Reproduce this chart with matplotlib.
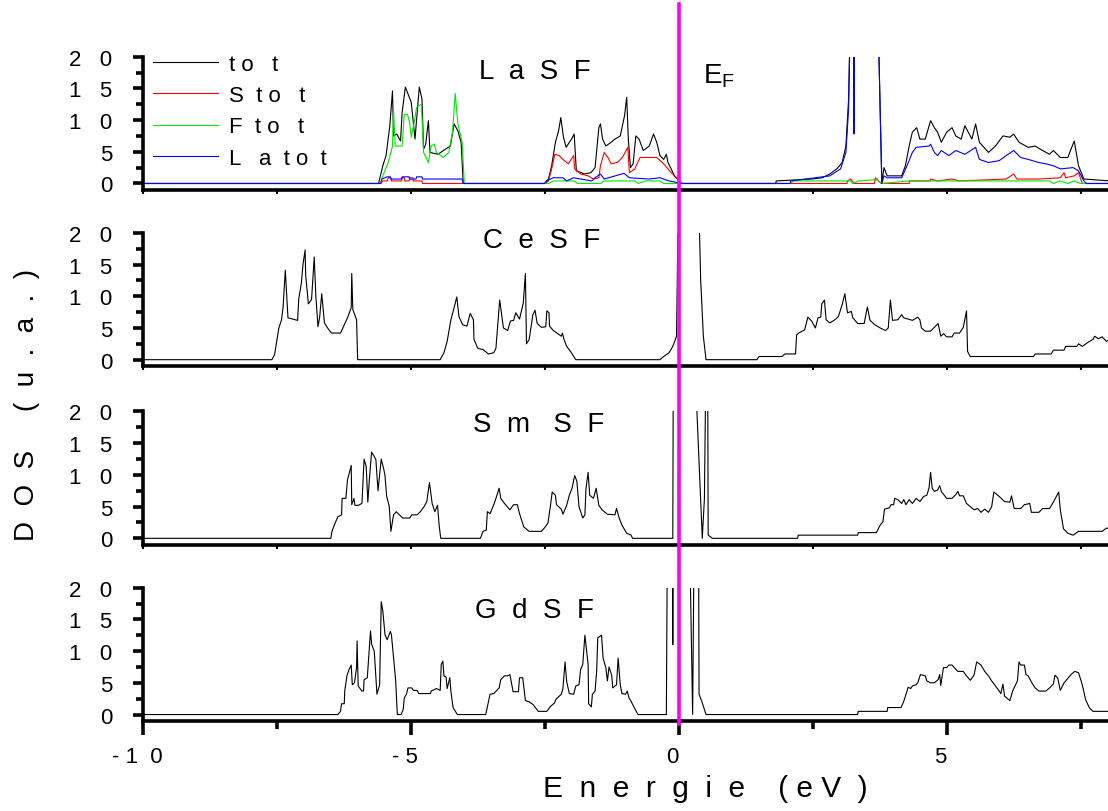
import matplotlib
matplotlib.use("Agg")
import matplotlib.pyplot as plt
from matplotlib.ticker import MultipleLocator, FixedLocator
from matplotlib.lines import Line2D
import matplotlib.transforms as mtransforms

plt.rcParams['font.family'] = ['Liberation Sans', 'DejaVu Sans']
plt.rcParams['mathtext.default'] = 'regular'

# ---------------- data (Energy eV, DOS u.a.) ----------------
E_FERMI = 0.0

la_tot = [(-10,0), (-5.61,0), (-5.53,2.8), (-5.47,4.4), (-5.40,9.1), (-5.35,14.6), (-5.33,7.5), (-5.27,7.8), (-5.20,6.7),
          (-5.17,11.2), (-5.11,15.2), (-5.00,12.8), (-4.93,7.0), (-4.85,15.2), (-4.80,13.3), (-4.77,5.4), (-4.73,6.2),
          (-4.68,9.9), (-4.65,4.9), (-4.50,4.6), (-4.40,5.2), (-4.27,5.9), (-4.20,9.4), (-4.13,8.3), (-4.07,6.5), (-4.03,0),
          (-2.51,0), (-2.44,0.7), (-2.38,2.8), (-2.31,6.5), (-2.25,8.3), (-2.21,10.4), (-2.16,7.3), (-2.11,5.7), (-2.05,6.5),
          (-2.01,7.0), (-1.96,7.8), (-1.92,2.0), (-1.77,1.5), (-1.65,1.7), (-1.57,2.5), (-1.50,8.8), (-1.47,9.4), (-1.43,7.0),
          (-1.37,5.9), (-1.27,6.5), (-1.20,7.0), (-1.10,7.5), (-1.02,10.7), (-0.98,13.6), (-0.95,7.0), (-0.91,2.5), (-0.86,3.1),
          (-0.81,7.5), (-0.75,7.0), (-0.67,5.2), (-0.56,5.9), (-0.48,7.8), (-0.42,6.5), (-0.36,4.4), (-0.29,3.8), (-0.24,4.6),
          (-0.21,3.3), (-0.15,2.3), (-0.09,1.2), (0.00,0.4), (0.05,0),
          (1.80,0), (1.81,0.4), (2.47,0.7), (2.67,0.9), (2.81,1.5), (2.94,2.3), (3.04,3.3), (3.11,5.9), (3.16,13.3), (3.20,30),
          (3.70,30), (3.78,0), (3.82,2.5), (3.88,1.2), (4.15,1.2), (4.22,2.8), (4.29,5.9), (4.35,8.1), (4.43,8.8), (4.49,7.0),
          (4.59,7.0), (4.69,9.9), (4.76,8.8), (4.82,8.1), (4.89,6.5), (4.99,8.1), (5.09,8.8), (5.16,7.5), (5.26,7.0), (5.33,9.1),
          (5.46,7.0), (5.53,9.4), (5.60,6.5), (5.77,4.9), (5.90,5.9), (6.04,7.5), (6.17,7.3), (6.24,7.8), (6.34,6.5), (6.51,5.7),
          (6.64,5.9), (6.78,5.2), (6.91,4.6), (6.98,5.2), (7.11,4.1), (7.25,4.1), (7.37,6.7), (7.45,2.8), (7.55,0.7), (8.05,0.4)]

la_s = [(-10,0), (-5.57,0), (-5.53,0.4), (-5.45,0.4), (-5.43,0.9), (-5.38,0.9), (-5.37,0.4), (-5.18,0.4), (-5.17,0.9),
        (-5.13,0.9), (-5.12,0.4), (-5.04,0.4), (-5.03,0.9), (-4.97,0.9), (-4.96,0.4), (-4.80,0.4), (-4.79,0),
        (-2.51,0), (-2.44,0.4), (-2.38,2.3), (-2.32,4.6), (-2.24,4.4), (-2.17,3.8), (-2.07,3.1), (-1.97,4.4), (-1.95,2.3),
        (-1.84,1.5), (-1.70,1.2), (-1.60,0.7), (-1.50,0.9), (-1.47,2.8), (-1.40,4.9), (-1.33,4.1), (-1.27,3.1), (-1.16,3.3),
        (-1.06,4.1), (-0.96,5.7), (-0.93,1.7), (-0.83,2.3), (-0.73,4.1), (-0.42,4.1), (-0.29,3.1), (-0.15,1.7), (-0.02,0.7),
        (0.05,0),
        (3.13,0), (3.14,0.4), (3.20,0.7), (3.26,0), (3.64,0), (3.66,0.9), (3.77,0), (4.29,0), (4.30,0.4), (4.68,0.4),
        (4.69,0.7), (4.82,0.4), (5.09,0.7), (5.23,0.4), (6.10,0.7), (6.24,1.5), (6.30,0.7), (6.71,0.7), (7.11,0.9),
        (7.18,1.7), (7.21,0.9), (7.37,1.2), (7.45,1.7), (7.52,0), (8.05,0)]

la_f = [(-10,0), (-5.57,0), (-5.53,1.2), (-5.43,3.3), (-5.35,5.9), (-5.33,11.5), (-5.30,5.9), (-5.17,5.9), (-5.13,10.9),
        (-5.07,10.9), (-5.03,9.6), (-5.00,7.3), (-4.95,9.4), (-4.90,12.0), (-4.81,12.5), (-4.77,4.9), (-4.68,3.3),
        (-4.63,5.9), (-4.57,6.2), (-4.53,4.9), (-4.40,4.1), (-4.30,4.9), (-4.23,8.1), (-4.18,14.2), (-4.13,9.4),
        (-4.05,6.5), (-4.01,0),
        (-2.44,0), (-2.34,0.4), (-1.97,0.4), (-1.90,0), (-1.47,0), (-1.40,0.4), (-0.83,0.4), (-0.76,0), (-0.63,0.4),
        (-0.36,0.4), (-0.29,0),
        (2.07,0), (2.14,0.4), (3.20,0.4), (3.24,0), (3.34,0.4), (3.68,0.6), (3.78,0), (4.29,0.4), (6.91,0.4), (6.98,0),
        (7.11,0.4), (7.25,0), (7.37,0.4), (7.48,0), (8.05,0)]

la_la = [(-10,0), (-5.57,0), (-5.55,0.7), (-5.45,1.05), (-5.39,1.05), (-5.38,0.7), (-5.18,0.7), (-5.17,1.05), (-5.04,1.05),
         (-5.03,0.7), (-4.91,0.7), (-4.90,1.05), (-4.80,1.05), (-4.79,0.7), (-4.05,0.7), (-4.03,0),
         (-2.51,0), (-2.48,0.4), (-2.35,0.9), (-2.17,0.9), (-2.10,0.4), (-1.97,0.9), (-1.63,0.4), (-1.57,0.9), (-1.47,1.5),
         (-1.40,0.7), (-1.03,1.6), (-0.93,0.9), (-0.56,0.7), (-0.36,0.9), (-0.19,0.4), (0.05,0),
         (2.07,0), (2.08,0.4), (2.81,1.2), (3.01,2.3), (3.11,4.9), (3.16,11.7), (3.20,30), (3.25,30), (3.26,7.8), (3.27,30),
         (3.70,30), (3.78,0), (3.82,1.2), (3.88,0.9), (4.15,0.9), (4.25,2.8), (4.35,4.9), (4.42,5.7), (4.66,5.9), (4.69,6.2),
         (4.76,4.9), (4.82,4.4), (4.89,5.2), (5.03,4.4), (5.16,5.2), (5.33,4.6), (5.53,5.7), (5.60,3.8), (5.77,3.3),
         (5.97,3.6), (6.10,4.4), (6.24,5.2), (6.37,4.1), (6.51,3.8), (6.71,3.3), (6.84,3.1), (6.98,2.8), (7.11,2.3),
         (7.35,2.5), (7.45,2.0), (7.55,0.4), (7.60,0), (8.05,0)]

ce_tot = [(-10,0), (-7.60,0), (-7.55,0.8), (-7.51,2.9), (-7.47,5.0), (-7.42,6.3), (-7.39,8.4), (-7.35,14.1), (-7.30,6.6),
          (-7.12,6.2), (-7.10,9.5), (-7.05,12.1), (-7.02,15.0), (-6.98,17.3), (-6.97,13.4), (-6.92,8.8), (-6.86,9.5),
          (-6.81,16.2), (-6.78,10.0), (-6.74,5.2), (-6.71,6.6), (-6.67,10.4), (-6.62,5.8), (-6.56,5.0), (-6.49,4.2),
          (-6.32,4.2), (-6.26,5.3), (-6.19,6.6), (-6.12,8.2), (-6.11,13.6), (-6.09,7.9), (-6.02,6.3), (-6.00,0),
          (-4.46,0), (-4.39,1.1), (-4.33,2.9), (-4.26,6.3), (-4.20,8.2), (-4.15,9.9), (-4.11,6.8), (-4.04,5.5), (-3.96,5.3),
          (-3.90,7.3), (-3.84,6.3), (-3.83,3.2), (-3.76,1.8), (-3.66,1.6), (-3.56,0.9), (-3.46,1.1), (-3.42,1.8),
          (-3.35,9.4), (-3.28,5.0), (-3.20,4.6), (-3.15,6.1), (-3.09,6.2), (-3.05,7.4), (-2.98,6.4), (-2.91,8.9),
          (-2.87,13.6), (-2.85,2.5), (-2.80,3.2), (-2.73,7.1), (-2.69,7.8), (-2.65,5.7), (-2.57,5.1), (-2.49,5.2),
          (-2.47,7.7), (-2.43,7.4), (-2.42,5.3), (-2.35,4.6), (-2.20,3.7), (-2.18,4.2), (-2.15,3.2), (-2.10,2.1),
          (-2.02,1.2), (-1.93,0),
          (-0.36,0), (-0.29,0.5), (-0.19,1.1), (-0.12,2.1), (-0.05,3.7), (-0.01,30), (0.35,30), (0.40,12.6), (0.45,3.7),
          (0.50,0),
          (1.45,0), (1.49,0.5), (1.92,0.5), (1.97,0.9), (2.17,0.9), (2.19,3.9), (2.23,4.2), (2.34,4.7), (2.40,6.7),
          (2.47,6.1), (2.54,5.0), (2.59,6.6), (2.64,6.7), (2.66,8.8), (2.71,9.4), (2.74,6.3), (2.81,5.8), (2.89,6.2),
          (2.97,6.8), (3.04,8.7), (3.09,10.4), (3.14,7.4), (3.21,7.6), (3.24,6.6), (3.33,5.7), (3.45,5.7), (3.51,8.3),
          (3.56,6.2), (3.65,5.5), (3.75,5.0), (3.85,4.6), (3.90,5.0), (3.94,9.4), (3.98,6.2), (4.08,6.3), (4.15,7.1),
          (4.19,6.6), (4.35,6.2), (4.45,6.7), (4.49,6.3), (4.52,5.0), (4.59,4.5), (4.69,4.5), (4.83,5.7), (4.88,3.7),
          (4.93,4.1), (4.99,3.6), (5.09,3.6), (5.13,4.2), (5.23,4.2), (5.30,5.1), (5.36,7.7), (5.38,1.3), (5.43,0.5),
          (6.61,0.5), (6.64,0.9), (6.94,0.9), (6.98,1.5), (7.18,1.5), (7.21,2.1), (7.42,2.1), (7.45,2.5), (7.52,2.1),
          (7.62,2.7), (7.72,3.2), (7.75,3.7), (7.82,3.3), (7.89,3.6), (7.97,2.9), (8.05,3.2)]

sm_tot = [(-10,0), (-6.50,0), (-6.48,1.1), (-6.42,2.4), (-6.37,3.4), (-6.30,3.7), (-6.29,6.3), (-6.22,6.3), (-6.19,9.2),
          (-6.12,11.5), (-6.11,5.3), (-6.07,6.3), (-6.05,5.2), (-5.99,5.2), (-5.92,5.5), (-5.88,12.5), (-5.84,11.3),
          (-5.81,5.7), (-5.78,9.4), (-5.74,13.6), (-5.69,12.9), (-5.66,12.4), (-5.62,7.5), (-5.56,12.5), (-5.51,10.8),
          (-5.49,9.9), (-5.46,6.7), (-5.41,5.0), (-5.38,1.1), (-5.33,3.7), (-5.28,4.2), (-5.16,3.2), (-5.03,3.2),
          (-4.99,3.7), (-4.89,3.7), (-4.83,4.2), (-4.76,5.0), (-4.71,5.8), (-4.66,8.8), (-4.61,5.5), (-4.56,4.2),
          (-4.51,5.2), (-4.48,2.1), (-4.45,0),
          (-3.71,0), (-3.66,1.1), (-3.60,1.3), (-3.58,4.2), (-3.53,3.9), (-3.46,5.3), (-3.42,6.3), (-3.36,7.9), (-3.33,6.3),
          (-3.26,5.5), (-3.16,4.5), (-3.09,5.3), (-3.02,5.3), (-2.98,3.9), (-2.90,1.8), (-2.80,1.1), (-2.57,1.1),
          (-2.50,1.8), (-2.45,2.4), (-2.40,5.3), (-2.37,7.3), (-2.31,6.8), (-2.29,5.3), (-2.20,4.6), (-2.17,3.8),
          (-2.10,5.2), (-2.05,6.8), (-2.00,7.9), (-1.95,9.9), (-1.91,9.0), (-1.87,5.0), (-1.80,3.2), (-1.76,3.7),
          (-1.74,7.8), (-1.70,10.4), (-1.67,6.8), (-1.60,6.3), (-1.55,7.9), (-1.50,5.2), (-1.44,4.5), (-1.34,3.8),
          (-1.20,3.7), (-1.17,4.7), (-1.12,3.2), (-1.07,2.1), (-0.98,0.8), (-0.90,0.5), (-0.87,0),
          (-0.12,0), (-0.11,30), (0.28,30), (0.43,0), (0.47,6.3), (0.50,30), (0.53,30), (0.54,0.5), (0.62,0),
          (2.21,0), (2.22,0.5), (3.33,0.5), (3.34,0.9), (3.68,0.9), (3.75,2.1), (3.80,2.6), (3.83,4.6), (3.92,4.8),
          (3.95,5.3), (4.00,5.3), (4.02,6.3), (4.08,6.1), (4.15,5.5), (4.19,6.1), (4.23,5.3), (4.29,6.1), (4.35,5.5),
          (4.42,6.3), (4.49,5.8), (4.56,6.6), (4.62,6.8), (4.66,7.9), (4.69,10.4), (4.72,7.9), (4.76,7.4), (4.82,7.6),
          (4.86,8.3), (4.89,7.4), (4.99,6.3), (5.09,6.3), (5.16,6.9), (5.20,7.4), (5.23,6.7), (5.30,6.7), (5.36,5.5),
          (5.43,5.0), (5.50,4.5), (5.57,4.7), (5.63,4.1), (5.70,4.6), (5.77,4.1), (5.83,5.0), (5.87,7.3), (5.97,6.6),
          (6.07,5.8), (6.17,5.7), (6.20,6.7), (6.25,4.7), (6.37,4.7), (6.44,5.3), (6.54,5.5), (6.57,4.1), (6.71,4.1),
          (6.78,4.7), (6.91,4.7), (6.98,5.7), (7.08,7.3), (7.11,4.5), (7.17,1.5), (7.25,0.8), (7.35,0.5), (7.45,1.1),
          (7.89,1.1), (7.97,1.6), (8.05,1.6)]

gd_tot = [(-10,0), (-6.37,0), (-6.32,0.5), (-6.30,1.7), (-6.25,1.7), (-6.24,3.8), (-6.20,6.1), (-6.16,7.1), (-6.12,7.8),
          (-6.10,4.7), (-6.06,5.0), (-6.02,7.4), (-6.01,11.6), (-5.99,4.5), (-5.92,3.7), (-5.89,3.7), (-5.88,5.5),
          (-5.82,5.8), (-5.76,13.2), (-5.74,11.1), (-5.69,10.0), (-5.64,3.2), (-5.59,4.7), (-5.56,17.8), (-5.53,16.3),
          (-5.49,12.6), (-5.45,11.8), (-5.39,13.1), (-5.37,12.6), (-5.33,8.9), (-5.29,5.3), (-5.26,0), (-5.19,0),
          (-5.15,0.8), (-5.13,2.6), (-5.09,3.2), (-5.06,4.2), (-4.99,4.2), (-4.96,3.8), (-4.89,3.8), (-4.86,3.3),
          (-4.64,3.3), (-4.63,3.7), (-4.53,4.1), (-4.46,3.8), (-4.44,7.9), (-4.41,8.4), (-4.39,6.1), (-4.35,5.9),
          (-4.33,4.1), (-4.28,5.8), (-4.26,3.7), (-4.22,1.1), (-4.14,0),
          (-3.61,0), (-3.53,3.2), (-3.46,3.3), (-3.36,4.2), (-3.33,5.5), (-3.26,6.1), (-3.20,6.1), (-3.16,6.3), (-3.13,5.0),
          (-3.10,3.6), (-3.00,3.6), (-2.98,5.8), (-2.92,5.8), (-2.87,2.2), (-2.80,2.0), (-2.73,1.6), (-2.63,0.5),
          (-2.47,0.5), (-2.40,1.3), (-2.33,1.8), (-2.30,2.4), (-2.20,3.2), (-2.17,4.1), (-2.13,8.3), (-2.10,5.2),
          (-2.05,3.3), (-1.97,3.2), (-1.93,4.5), (-1.87,4.7), (-1.84,7.1), (-1.80,7.9), (-1.76,12.5), (-1.70,7.9),
          (-1.69,1.7), (-1.64,1.2), (-1.62,3.2), (-1.57,3.7), (-1.54,6.9), (-1.52,12.1), (-1.45,12.5), (-1.42,8.9),
          (-1.37,7.4), (-1.34,5.3), (-1.31,7.5), (-1.26,6.2), (-1.24,4.2), (-1.17,4.7), (-1.14,8.9), (-1.10,4.7),
          (-1.07,3.3), (-1.00,3.2), (-0.97,3.7), (-0.94,2.7), (-0.90,2.1), (-0.84,1.1), (-0.77,0),
          (-0.24,0), (-0.22,30), (-0.13,30), (-0.12,11.0), (-0.11,30), (0.19,30), (0.25,0), (0.28,30), (0.36,30),
          (0.37,3.2), (0.42,2.1), (0.50,0),
          (3.33,0), (3.34,0.5), (3.88,0.5), (3.89,1.1), (4.14,1.1), (4.19,2.1), (4.25,3.7), (4.27,4.3), (4.32,4.1),
          (4.35,4.5), (4.42,4.7), (4.45,5.0), (4.50,6.3), (4.59,6.1), (4.62,5.3), (4.69,5.0), (4.76,5.0), (4.83,5.5),
          (4.86,6.3), (4.88,4.6), (4.93,7.4), (4.99,7.4), (5.03,7.8), (5.09,7.8), (5.13,7.4), (5.20,6.8), (5.30,6.8),
          (5.36,6.1), (5.43,5.4), (5.50,6.2), (5.55,8.3), (5.63,7.8), (5.70,6.8), (5.77,6.1), (5.83,5.3), (5.90,4.5),
          (5.97,3.7), (6.00,3.3), (6.04,4.8), (6.07,2.9), (6.17,2.2), (6.22,3.7), (6.31,5.3), (6.34,8.3), (6.37,7.8),
          (6.44,7.8), (6.47,6.3), (6.51,6.1), (6.58,5.0), (6.64,4.2), (6.71,3.7), (6.84,3.7), (6.91,4.2), (6.98,4.8),
          (7.01,6.2), (7.06,5.8), (7.11,3.8), (7.18,5.0), (7.25,5.7), (7.31,6.3), (7.38,6.8), (7.45,6.6), (7.52,4.7),
          (7.58,2.4), (7.65,1.1), (7.72,0.5), (8.05,0.5)]

panel_names = ["L  a  S  F", "C  e  S  F", "S  m   S  F", "G  d  S  F"]
legend_labels = ["t o   t", "S  t o   t", "F  t o   t", "L   a  t o  t"]
y_ticks = [0, 5, 10, 15, 20]
y_tick_labels = ["0", "5", "1   0", "1   5", "2   0"]
x_ticks = [-10, -5, 0, 5]
x_tick_labels = ["- 1  0  ", "- 5  ", "0  ", "5  "]

# ---------------- figure ----------------
fig = plt.figure(figsize=(11.08, 8.12), dpi=100)
left, width, height = 0.1293, 0.8707, 0.164
bottoms = [0.765, 0.548, 0.328, 0.111]
axes = [fig.add_axes([left, b, width, height]) for b in bottoms]

def xy(curve):
    return [p[0] for p in curve], [p[1] for p in curve]

lw = 0.8
ax = axes[0]
for curve, col, lab in [(la_tot, 'black', legend_labels[0]), (la_s, '#ff0000', legend_labels[1]),
                        (la_f, '#00e600', legend_labels[2]), (la_la, '#0000ff', legend_labels[3])]:
    x, y = xy(curve)
    ax.plot(x, y, color=col, lw=lw, label=lab)
for ax, curve in zip(axes[1:], [ce_tot, sm_tot, gd_tot]):
    x, y = xy(curve)
    ax.plot(x, y, color='black', lw=lw)

leg = axes[0].legend(loc='upper left', bbox_to_anchor=(0.0105, 1.02), frameon=False, fontsize=16,
                     handlelength=2.9, handletextpad=0.5, borderpad=0, borderaxespad=0, labelspacing=0.46)

for i, ax in enumerate(axes):
    ax.set_xlim(-10, 8.0)
    ax.set_ylim(-1.0, 20)
    for s in ['top', 'right']:
        ax.spines[s].set_visible(False)
    for s in ['left', 'bottom']:
        ax.spines[s].set_linewidth(2.6)
    ax.yaxis.set_major_locator(FixedLocator(y_ticks))
    ax.set_yticklabels(y_tick_labels)
    ax.yaxis.set_minor_locator(MultipleLocator(2.5))
    ax.xaxis.set_major_locator(FixedLocator(x_ticks))
    ax.xaxis.set_minor_locator(MultipleLocator(2.5))
    ax.tick_params(axis='y', which='major', direction='out', length=7.5, width=2.6, labelsize=16, pad=15)
    ax.tick_params(axis='y', which='minor', direction='out', length=5, width=2.6)
    if i < 3:
        ax.tick_params(axis='x', which='both', direction='out', length=3, width=1.5, labelbottom=False)
    else:
        ax.set_xticklabels(x_tick_labels)
        ax.tick_params(axis='x', which='major', direction='out', length=10, width=2.6, labelsize=16, pad=8)
        ax.tick_params(axis='x', which='minor', direction='out', length=6, width=2.6)
    ax.set_facecolor('none')

title_pos = [(-2.69, 17.7), (-2.56, 18.8), (-2.63, 18.0), (-2.71, 16.5)]
for ax, name, (tx, ty) in zip(axes, panel_names, title_pos):
    ax.text(tx, ty, name, fontsize=20, ha='center', va='center')

axes[0].text(0.75, 17.0, r"$\mathregular{E_F}$", fontsize=20, ha='center', va='center')

# Fermi level line across all panels
trans = mtransforms.blended_transform_factory(axes[0].transData, fig.transFigure)
fig.add_artist(Line2D([E_FERMI, E_FERMI], [0.994, 0.107], transform=trans, color='#ff00ff', lw=2.6, zorder=10))

fig.text(0.024, 0.501, "D  O  S     (  u  .  a  .  )", rotation=90, fontsize=20, ha='center', va='center')
fig.text(0.637, 0.028, "E  n  e  r  g  i  e    ( e V  )", fontsize=21.5, ha='center', va='center')

fig.savefig("out.png", dpi=100)
